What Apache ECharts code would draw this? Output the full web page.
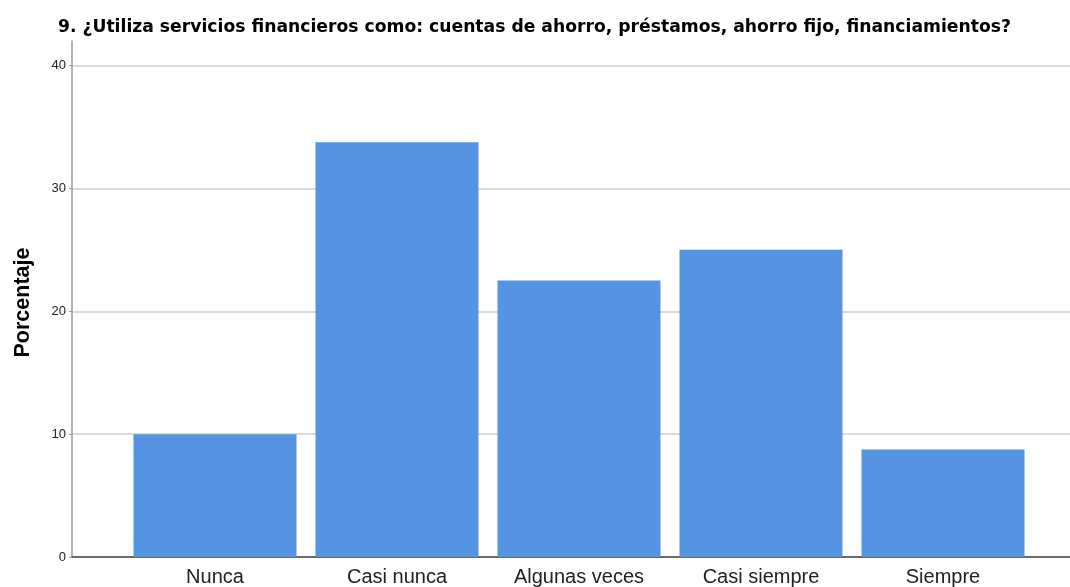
<!DOCTYPE html>
<html>
<head>
    <meta charset="UTF-8"/>
    <script src="https://cdn.jsdelivr.net/npm/echarts@6/dist/echarts.min.js"></script>
    <title>Servicios financieros</title>
    <style>
        html, body {margin: 0; padding: 0; background: #fff;}
        #main {width: 1070px; height: 587px;}
    </style>
</head>
<body>
<div id="main"></div>
<script type="text/javascript">
    // datos (porcentaje)
    var categorias = ['Nunca', 'Casi nunca', 'Algunas veces', 'Casi siempre', 'Siempre'];
    var porcentajes = [10, 33.75, 22.5, 25, 8.75];
    var yMin = 0;
    var yMax = 42;
    var yPaso = 10;
    var titulo = '9. ¿Utiliza servicios financieros como: cuentas de ahorro, préstamos, ahorro fijo, financiamientos?';

    var myChart = echarts.init(document.getElementById('main'));

    var option = {
        animation: false,
        backgroundColor: '#ffffff',
        title: {
            text: titulo,
            left: 53,
            top: 14,
            textStyle: {
                fontFamily: 'DejaVu Sans, sans-serif',
                fontSize: 17.2,
                fontWeight: 'bold',
                color: '#000'
            }
        },
        grid: [
            // marco: eje y, lineas de division y eje x
            {left: 72, right: 0, top: 41, bottom: 30},
            // zona de las barras
            {left: 124, right: 36, top: 41, bottom: 30}
        ],
        xAxis: [
            {
                type: 'value',
                gridIndex: 0,
                min: 0,
                max: 1,
                axisLine: {show: true, lineStyle: {color: '#444', width: 1.5}},
                axisTick: {show: false},
                axisLabel: {show: false},
                splitLine: {show: false}
            },
            {
                type: 'category',
                gridIndex: 1,
                data: categorias,
                axisLine: {show: false},
                axisTick: {show: false},
                axisLabel: {
                    margin: 10,
                    fontFamily: 'Liberation Sans, Arial, sans-serif',
                    fontSize: 20,
                    color: '#222'
                }
            }
        ],
        yAxis: [
            {
                type: 'value',
                gridIndex: 0,
                min: yMin,
                max: yMax,
                interval: yPaso,
                name: 'Porcentaje',
                nameLocation: 'middle',
                nameRotate: 90,
                nameGap: 38,
                nameTextStyle: {
                    fontFamily: 'Liberation Sans, Arial, sans-serif',
                    fontSize: 21.5,
                    fontWeight: 'bold',
                    color: '#000',
                    padding: [0, 7, 0, 0]
                },
                axisLine: {show: true, lineStyle: {color: '#999', width: 1.5}},
                axisTick: {show: true, length: 3, lineStyle: {color: '#999'}},
                axisLabel: {
                    margin: 6,
                    showMaxLabel: false,
                    fontFamily: 'Liberation Sans, Arial, sans-serif',
                    fontSize: 13,
                    color: '#222'
                },
                splitLine: {show: true, showMaxLine: false, lineStyle: {color: '#cccccc', width: 1.5}}
            },
            {
                type: 'value',
                gridIndex: 1,
                min: yMin,
                max: yMax,
                show: false
            }
        ],
        series: [
            {
                name: 'Porcentaje',
                type: 'bar',
                xAxisIndex: 1,
                yAxisIndex: 1,
                barWidth: 163,
                data: porcentajes,
                itemStyle: {color: '#5594e2'}
            }
        ]
    };

    myChart.setOption(option);
</script>
</body>
</html>
